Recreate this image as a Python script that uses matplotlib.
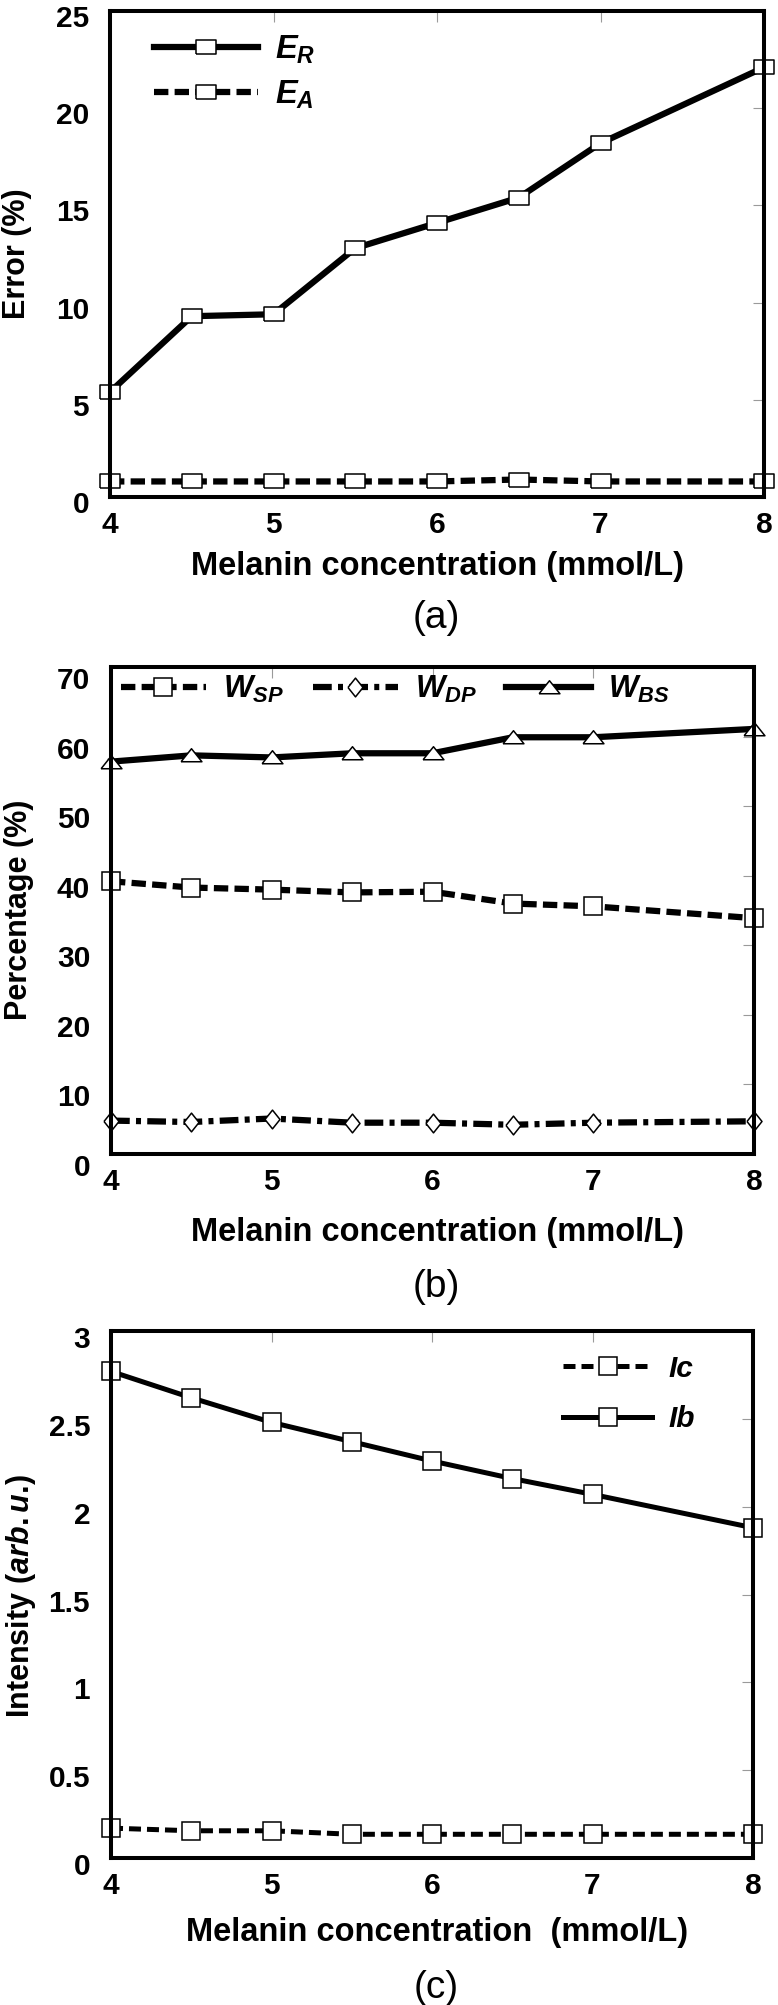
import matplotlib
matplotlib.use('Agg')
import matplotlib.pyplot as plt
import matplotlib.transforms as mtransforms

plt.rcParams['font.family'] = ['Liberation Sans', 'DejaVu Sans']
plt.rcParams['mathtext.fontset'] = 'custom'
plt.rcParams['mathtext.rm'] = 'Liberation Sans:bold'
plt.rcParams['mathtext.it'] = 'Liberation Sans:italic:bold'
plt.rcParams['mathtext.bf'] = 'Liberation Sans:bold'

# ---------------- data ----------------
conc = [4, 4.5, 5, 5.5, 6, 6.5, 7, 8]
x_ticks = [4, 5, 6, 7, 8]

err_R = [5.4, 9.3, 9.4, 12.8, 14.1, 15.4, 18.2, 22.1]
err_A = [0.8, 0.8, 0.8, 0.8, 0.8, 0.9, 0.8, 0.8]
err_ticks = [0, 5, 10, 15, 20, 25]

w_sp = [39.2, 38.3, 38.0, 37.6, 37.7, 36.0, 35.6, 33.9]
w_dp = [4.8, 4.6, 5.1, 4.5, 4.5, 4.2, 4.5, 4.7]
w_bs = [56.4, 57.3, 57.0, 57.6, 57.6, 59.9, 59.9, 61.1]
pct_ticks = [0, 10, 20, 30, 40, 50, 60, 70]

i_c = [0.17, 0.155, 0.155, 0.135, 0.135, 0.135, 0.135, 0.135]
i_b = [2.77, 2.62, 2.48, 2.37, 2.26, 2.16, 2.07, 1.88]
int_ticks = [0, 0.5, 1, 1.5, 2, 2.5, 3]
int_ticklabels = ['0', '0.5', '1', '1.5', '2', '2.5', '3']

xlabel_ab = 'Melanin concentration (mmol/L)'
xlabel_c = 'Melanin concentration  (mmol/L)'

# ---------------- figure ----------------
W, H = 778, 2005
fig = plt.figure(figsize=(W / 100, H / 100), dpi=100)


def px_axes(l, t, r, b):
    return fig.add_axes([l / W, 1 - b / H, (r - l) / W, (b - t) / H])


def style_axes(ax, ylim, yticks, yticklabels, ydown):
    ax.set_xlim(4, 8)
    ax.set_ylim(*ylim)
    ax.set_xticks(x_ticks)
    ax.set_xticklabels([str(t) for t in x_ticks])
    ax.set_yticks(yticks)
    ax.set_yticklabels(yticklabels)
    for s in ax.spines.values():
        s.set_linewidth(2.9)
        s.set_color('black')
    ax.tick_params(which='both', direction='in', left=False, bottom=False,
                   top=True, right=True, length=8, width=0.8, color='#9a9a9a',
                   labelleft=True, labelbottom=True, labelsize=21.5)
    ax.tick_params(axis='y', pad=15)
    ax.tick_params(axis='x', pad=10)
    for lab in ax.get_xticklabels() + ax.get_yticklabels():
        lab.set_fontweight('bold')
    off = mtransforms.ScaledTranslation(0, -ydown / 100, fig.dpi_scale_trans)
    for lab in ax.get_yticklabels():
        lab.set_transform(lab.get_transform() + off)


sq_wide = [(-1, -0.7), (1, -0.7), (1, 0.7), (-1, 0.7), (-1, -0.7)]
tri_flat = [(-1, -0.6), (1, -0.6), (0, 0.65), (-1, -0.6)]
diam = [(-0.8, 0), (0, 1), (0.8, 0), (0, -1), (-0.8, 0)]

mk = dict(markerfacecolor='white', markeredgecolor='black', markeredgewidth=1.1,
          clip_on=False, color='black')

# ---------------- (a) ----------------
axa = px_axes(110, 11, 764, 497)
la, = axa.plot(conc, err_R, lw=4.5, ls='-', marker=sq_wide, markersize=14.5, **mk)
lb, = axa.plot(conc, err_A, lw=4.5, ls=(0, (2.3, 1.0)), marker=sq_wide, markersize=14.5, **mk)
style_axes(axa, (0, 25), err_ticks, [str(t) for t in err_ticks], 5)
axa.legend([la, lb], [r'$E_R$', r'$E_A$'], loc='upper left',
           bbox_to_anchor=(0.067, 0.953), frameon=False, borderpad=0,
           borderaxespad=0, handlelength=3.2, handletextpad=0.5,
           labelspacing=0.38, fontsize=23.5)

# ---------------- (b) ----------------
axb = px_axes(111, 667, 754, 1154)
l1, = axb.plot(conc, w_sp, lw=4.5, ls=(0, (2.3, 1.0)), marker='s', markersize=12.5, **mk)
l2, = axb.plot(conc, w_dp, lw=4.5, ls=(0, (3.0, 1.0, 0.8, 1.0)), marker=diam, markersize=13.5, **mk)
l3, = axb.plot(conc, w_bs, lw=4.5, ls='-', marker=tri_flat, markersize=15, **mk)
style_axes(axb, (0, 70), pct_ticks, [str(t) for t in pct_ticks], 11)
axb.legend([l1, l2, l3], [r'$W_{SP}$', r'$W_{DP}$', r'$W_{BS}$'], loc='upper left',
           bbox_to_anchor=(0.016, 0.985), ncol=3, frameon=False, borderpad=0,
           borderaxespad=0, handlelength=2.7, handletextpad=0.55,
           columnspacing=0.95, fontsize=22.5)

# ---------------- (c) ----------------
axc = px_axes(111, 1331, 753, 1858)
lc, = axc.plot(conc, i_c, lw=3.6, ls=(0, (2.4, 1.2)), marker='s', markersize=13, **mk)
lbb, = axc.plot(conc, i_b, lw=3.6, ls='-', marker='s', markersize=13, **mk)
style_axes(axc, (0, 3), int_ticks, int_ticklabels, 6)
axc.legend([lc, lbb], ['Ic', 'Ib'], loc='upper right',
           bbox_to_anchor=(0.91, 0.955), frameon=False, borderpad=0,
           borderaxespad=0, handlelength=3.0, handletextpad=0.55,
           labelspacing=0.75, prop=dict(size=21.5, weight='bold', style='italic'))

# ---------------- labels ----------------
lab_kw = dict(fontsize=23.5, fontweight='bold', ha='center', va='center')
ylab_kw = dict(fontsize=22, fontweight='bold', ha='center', va='center', rotation=90)
fig.text(437 / W, 1 - 566 / H, xlabel_ab, **lab_kw)
fig.text(437 / W, 1 - 1233 / H, xlabel_ab, **lab_kw)
fig.text(437 / W, 1 - 1933 / H, xlabel_c, **lab_kw)

fig.text(17 / W, 1 - 254 / H, 'Error (%)', **ylab_kw)
fig.text(19 / W, 1 - 910 / H, 'Percentage (%)', **ylab_kw)
fig.text(21 / W, 1 - 1596 / H, r'$\mathrm{Intensity}\ (arb.u.\!)$', **ylab_kw)

pan_kw = dict(fontsize=28, ha='center', va='center')
fig.text(436 / W, 1 - 618 / H, '(a)', **pan_kw)
fig.text(436 / W, 1 - 1287 / H, '(b)', **pan_kw)
fig.text(436 / W, 1 - 1988 / H, '(c)', **pan_kw)

fig.savefig('out.png', dpi=100)
